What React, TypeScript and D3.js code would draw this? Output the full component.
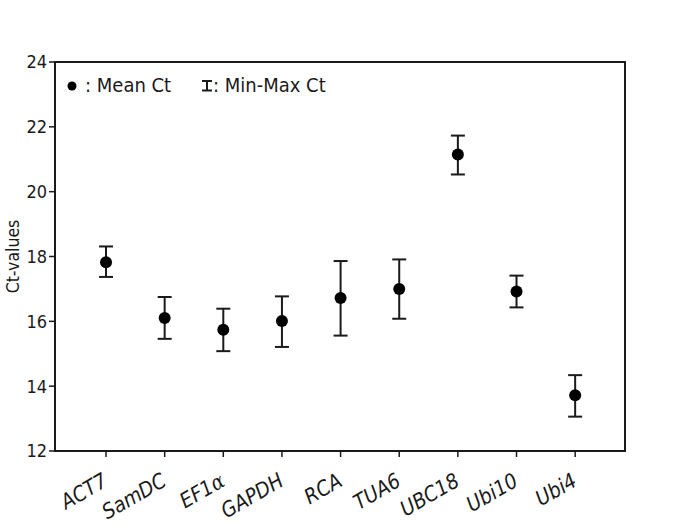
import React from 'react';
import * as d3 from 'd3';

const genes = ['ACT7', 'SamDC', 'EF1', 'GAPDH', 'RCA', 'TUA6', 'UBC18', 'Ubi10', 'Ubi4'];
const meanCt = [17.82, 16.1, 15.74, 16.01, 16.72, 17.0, 21.15, 16.92, 13.72];
const minCt = [17.37, 15.46, 15.08, 15.21, 15.56, 16.08, 20.53, 16.43, 13.06];
const maxCt = [18.31, 16.75, 16.39, 16.77, 17.86, 17.91, 21.73, 17.41, 14.34];
const yTicks = [12, 14, 16, 18, 20, 22, 24];

const W = 685;
const H = 526;
const left = 55, right = 625, top = 62, bottom = 451;
// Tahoma-ish look: condensed DejaVu
const font = '"DejaVu Sans Condensed", "DejaVu Sans", sans-serif';

export default function App() {
  // point positions: first gene at 106, last at 575
  const x = d3.scaleLinear().domain([-0.87, 8.85]).range([left, right]);
  const y = d3.scaleLinear().domain([12, 24]).range([bottom, top]);
  const ink = '#1a1a1a';

  return (
    <svg width={W} height={H} style={{ position: 'absolute', left: 0, top: 0, background: '#fff' }}>
      <rect x={left} y={top} width={right - left} height={bottom - top} fill="none" stroke={ink} strokeWidth={2} />
      {yTicks.map(t => (
        <g key={t}>
          <line x1={left - 6} x2={left} y1={y(t)} y2={y(t)} stroke={ink} strokeWidth={1.5} />
          <text x={left - 8} y={y(t)} dy="0.36em" textAnchor="end" fontFamily={font} fontStretch="condensed"
            fontSize={18} fill={ink}>{t}</text>
        </g>
      ))}
      <text transform={`translate(13,${(top + bottom) / 2}) rotate(-90)`} textAnchor="middle" dy="0.35em"
        fontFamily={font} fontStretch="condensed" fontSize={17.5} fill={ink}>Ct-values</text>
      {genes.map((g, i) => {
        const cx = x(i);
        return (
          <g key={g}>
            <line x1={cx} x2={cx} y1={bottom} y2={bottom + 6} stroke={ink} strokeWidth={1.5} />
            <text transform={`translate(${cx + 3},${bottom + 34}) rotate(-30)`} textAnchor="end"
              fontFamily={font} fontStretch="condensed" fontSize={21} fontStyle="italic" fill={ink}>
              {g}
              {g === 'EF1' && <tspan fontFamily='"DejaVu Serif", serif'>α</tspan>}
            </text>
            <line x1={cx} x2={cx} y1={y(minCt[i])} y2={y(maxCt[i])} stroke={ink} strokeWidth={2} />
            <line x1={cx - 7} x2={cx + 7} y1={y(minCt[i])} y2={y(minCt[i])} stroke={ink} strokeWidth={2} />
            <line x1={cx - 7} x2={cx + 7} y1={y(maxCt[i])} y2={y(maxCt[i])} stroke={ink} strokeWidth={2} />
            <circle cx={cx} cy={y(meanCt[i])} r={6} fill="#000" />
          </g>
        );
      })}
      <g fontFamily={font} fontStretch="condensed" fontSize={20} fill={ink}>
        <circle cx={72} cy={86} r={4.5} fill="#000" />
        <text x={85} y={92}>: Mean Ct</text>
        <line x1={202} x2={212} y1={81} y2={81} stroke={ink} strokeWidth={2} />
        <line x1={202} x2={212} y1={90.5} y2={90.5} stroke={ink} strokeWidth={2} />
        <line x1={207} x2={207} y1={81} y2={90.5} stroke={ink} strokeWidth={2} />
        <text x={213} y={92}>: Min-Max Ct</text>
      </g>
    </svg>
  );
}
